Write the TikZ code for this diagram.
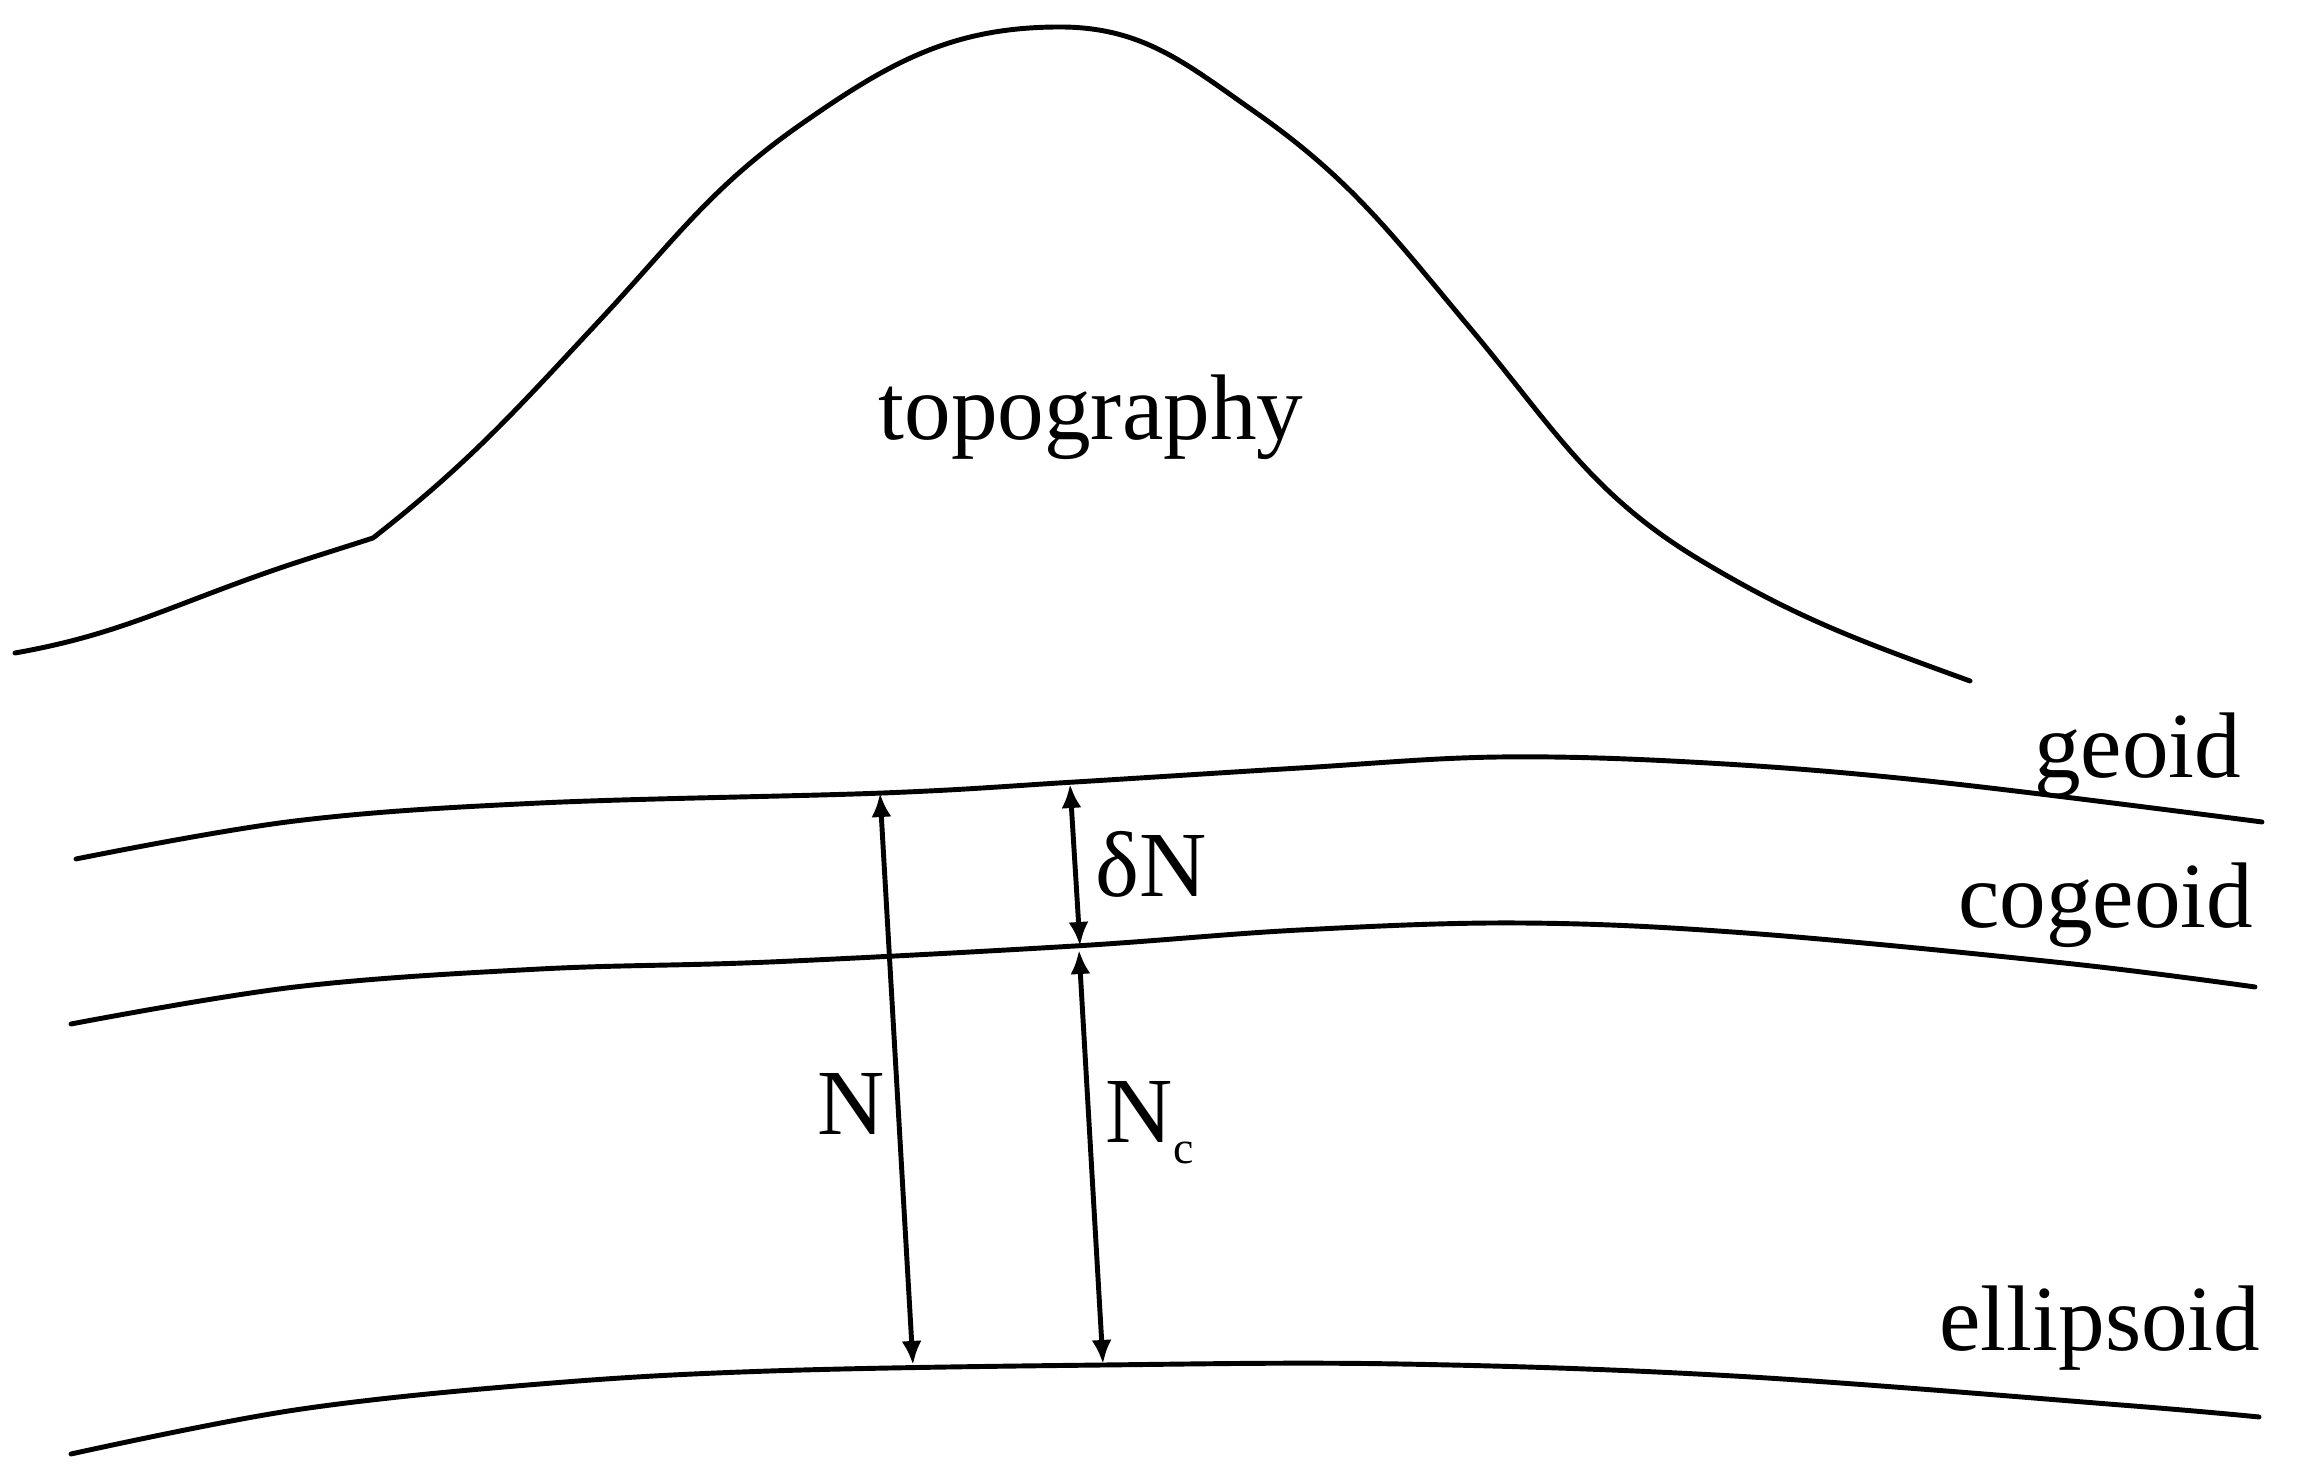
\documentclass[tikz,border=0pt]{standalone}
\usepackage{fontspec}
\setmainfont{Liberation Serif}
\usetikzlibrary{arrows.meta}
\begin{document}
\begin{tikzpicture}[x=0.01cm,y=-0.01cm,
  curve/.style={line width=1.4pt, line cap=round, line join=round},
  measure/.style={line width=1.4pt, {Latex[length=2.4mm,width=2mm]}-{Latex[length=2.4mm,width=2mm]}},
  lbl/.style={font=\fontsize{26.5}{30}\selectfont, inner sep=0pt}]
\useasboundingbox (0,0) rectangle (2299,1483);

% topography
\coordinate (t0) at (15,653);
\coordinate (t1) at (246,580);
\coordinate (tA) at (373,538);
\coordinate (tB) at (600,320);
\coordinate (tC) at (800,125);
\coordinate (tD) at (1060,27);
\coordinate (tE) at (1255,112);
\coordinate (tF) at (1470,328);
\coordinate (tG) at (1700,560);
\coordinate (tH) at (1970,681);
\draw[curve] (t0) to[out=10,in=-160] (t1) to[out=20,in=-162] (tA)
  to[out=38,in=-133] (tB) to[out=47,in=-145] (tC) to[out=35,in=180] (tD)
  to[out=0,in=145] (tE) to[out=-35,in=130] (tF) to[out=-50,in=149] (tG)
  to[out=-31,in=160] (tH);

% geoid
\draw[curve] plot[smooth, tension=0.6] coordinates {(76,859) (295,821) (540,803) (883,793) (1075,782) (1300,768) (1500,757) (1708,763) (1937,782) (2262,822)};
% cogeoid
\draw[curve] plot[smooth, tension=0.6] coordinates {(71,1024) (295,987) (540,969) (770,962) (1075,946) (1300,930) (1520,923) (1746,933) (2064,963) (2255,987)};
% ellipsoid
\draw[curve] plot[smooth, tension=0.6] coordinates {(71,1454) (295,1410) (540,1384) (770,1371) (1104,1365) (1400,1364) (1734,1376) (2121,1405) (2259,1417)};

% measurement end points
\coordinate (Ng) at (880,793);
\coordinate (Ne) at (913,1365);
\coordinate (dNg) at (1070,784);
\coordinate (dNc) at (1080,946);
\coordinate (Ncc) at (1079,950);
\coordinate (Nce) at (1103,1364);

\draw[measure] (Ng) -- (Ne);
\draw[measure] (dNg) -- (dNc);
\draw[measure] (Ncc) -- (Nce);

% labels
\node[lbl, anchor=base west] (topo) at (878,440) {topography};
\node[lbl, anchor=base east] (geoidlbl) at (2242,778) {geoid};
\node[lbl, anchor=base east] (cogeoidlbl) at (2254,928) {cogeoid};
\node[lbl, anchor=base east] (ellipsoidlbl) at (2261,1351) {ellipsoid};
\node[lbl, anchor=base west] (dNlbl) at (1095,897) {δN};
\node[lbl, anchor=base west] (Nlbl) at (817,1135) {N};
\node[lbl, anchor=base west] (Nclbl) at (1105,1143) {N\raisebox{-0.2cm}{\fontsize{13}{15}\selectfont c}};
\end{tikzpicture}
\end{document}
